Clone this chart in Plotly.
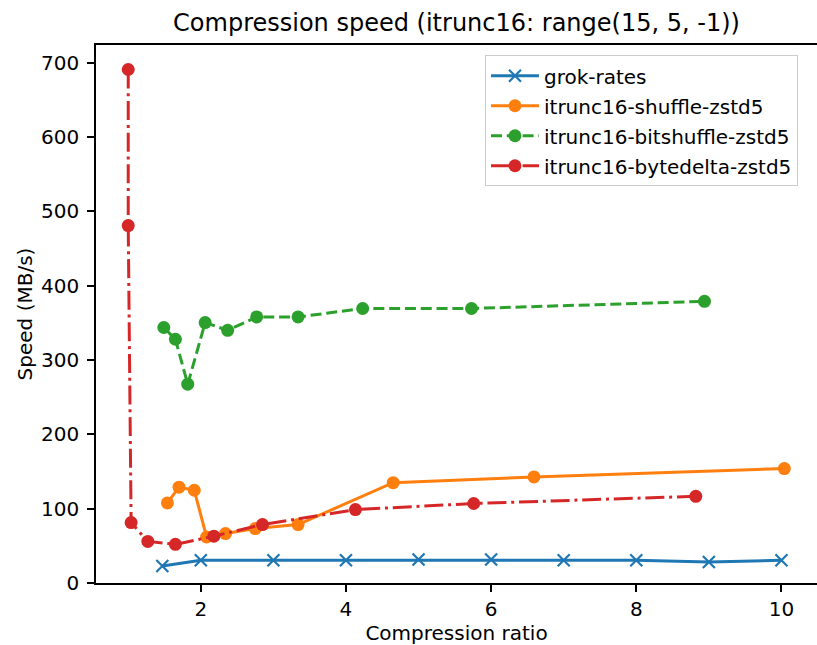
import plotly.graph_objects as go

# Data
grok_ratio = [1.47, 2.0, 3.0, 4.0, 5.0, 6.0, 7.0, 8.0, 9.0, 10.0]
grok_speed = [22.9, 30.6, 30.6, 30.6, 31.5, 31.5, 30.6, 30.6, 28.3, 30.6]

shuffle_ratio = [1.54, 1.70, 1.91, 2.08, 2.34, 2.75, 3.34, 4.65, 6.59, 10.04]
shuffle_speed = [107.7, 129.0, 124.8, 61.9, 66.5, 73.2, 78.6, 135.0, 142.7, 154.0]

bitshuffle_ratio = [1.49, 1.65, 1.82, 2.06, 2.37, 2.77, 3.34, 4.23, 5.73, 8.94]
bitshuffle_speed = [343.8, 328.0, 267.5, 350.5, 340.0, 358.0, 358.0, 369.4, 369.4, 379.0]

bytedelta_ratio = [1.0, 1.0, 1.04, 1.27, 1.65, 2.18, 2.85, 4.13, 5.76, 8.82]
bytedelta_speed = [691.0, 481.0, 81.3, 56.0, 52.0, 63.0, 78.6, 98.8, 107.0, 116.7]

names = ["grok-rates", "itrunc16-shuffle-zstd5",
         "itrunc16-bitshuffle-zstd5", "itrunc16-bytedelta-zstd5"]
colors = ["#1f77b4", "#ff7f0e", "#2ca02c", "#d62728"]

FONT = "DejaVu Sans"
LW = 3
FS = 20

fig = go.Figure()

fig.add_trace(go.Scatter(
    x=grok_ratio, y=grok_speed, name=names[0], mode="lines+markers",
    line=dict(color=colors[0], width=LW),
    marker=dict(symbol="x-thin", size=12, line=dict(color=colors[0], width=2.2)),
    legendgroup="g0"))
fig.add_trace(go.Scatter(
    x=shuffle_ratio, y=shuffle_speed, name=names[1], mode="lines+markers",
    line=dict(color=colors[1], width=LW),
    marker=dict(symbol="circle", size=13, color=colors[1], line=dict(width=0)),
    legendgroup="g1"))
fig.add_trace(go.Scatter(
    x=bitshuffle_ratio, y=bitshuffle_speed, name=names[2], mode="lines+markers",
    line=dict(color=colors[2], width=LW, dash="11px,4.8px"),
    marker=dict(symbol="circle", size=13, color=colors[2], line=dict(width=0)),
    legendgroup="g2"))
fig.add_trace(go.Scatter(
    x=bytedelta_ratio, y=bytedelta_speed, name=names[3], mode="lines+markers",
    line=dict(color=colors[3], width=LW, dash="19px,4.8px,3px,4.8px"),
    marker=dict(symbol="circle", size=13, color=colors[3], line=dict(width=0)),
    legendgroup="g3"))

axis_common = dict(
    showgrid=False, zeroline=False, showline=True, linecolor="black",
    linewidth=1.6, ticks="outside", ticklen=7, tickwidth=1.6,
    tickcolor="black", tickfont=dict(family=FONT, size=FS, color="black"),
    title_font=dict(family=FONT, size=FS, color="black"),
)

fig.update_xaxes(range=[0.556, 10.49], tickvals=[2, 4, 6, 8, 10],
                 title_text="Compression ratio", title_standoff=6,
                 mirror=True, **axis_common)
fig.update_yaxes(range=[0, 724], tickvals=[0, 100, 200, 300, 400, 500, 600, 700],
                 title_text="Speed (MB/s)", title_standoff=3,
                 ticklabelstandoff=4, mirror=False,
                 **axis_common)

W, H = 817, 645
fig.update_layout(
    width=W, height=H,
    margin=dict(l=96, r=0, t=45, b=62),
    paper_bgcolor="white", plot_bgcolor="white",
    font=dict(family=FONT, color="black"),
    title=dict(text="Compression speed (itrunc16: range(15, 5, -1))",
               x=456.5 / W, xanchor="center",
               y=1 - 23 / H, yanchor="middle",
               font=dict(family=FONT, size=24, color="black")),
    legend=dict(x=0.5395, y=0.981, xanchor="left", yanchor="top",
                bgcolor="white", bordercolor="#cccccc", borderwidth=1,
                font=dict(family=FONT, size=FS, color="black"),
                tracegroupgap=1, itemwidth=48),
    showlegend=True,
)

fig.write_html(
    "out.html",
    config={"displayModeBar": False},
    post_script="document.body.style.margin='0';document.body.style.overflow='hidden';",
)
